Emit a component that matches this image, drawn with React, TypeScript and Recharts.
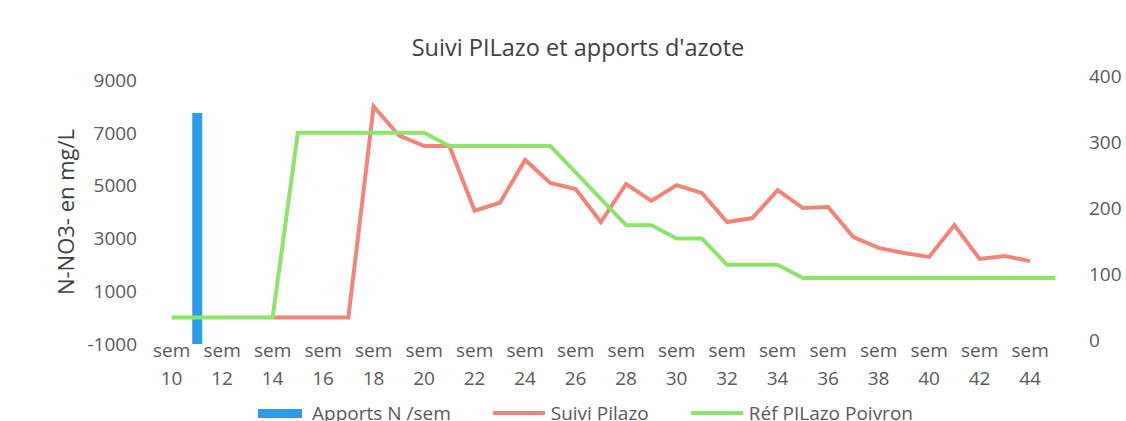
import { ComposedChart, Bar, Line, XAxis, YAxis } from "recharts";

const weeks = [
  "sem 10", "sem 11", "sem 12", "sem 13", "sem 14", "sem 15", "sem 16", "sem 17", "sem 18",
  "sem 19", "sem 20", "sem 21", "sem 22", "sem 23", "sem 24", "sem 25", "sem 26", "sem 27",
  "sem 28", "sem 29", "sem 30", "sem 31", "sem 32", "sem 33", "sem 34", "sem 35", "sem 36",
  "sem 37", "sem 38", "sem 39", "sem 40", "sem 41", "sem 42", "sem 43", "sem 44", "sem 45",
];

// Apports N /sem (axe de droite)
const apports = [
  null, 350, null, null, null, null, null, null, null,
  null, null, null, null, null, null, null, null, null,
  null, null, null, null, null, null, null, null, null,
  null, null, null, null, null, null, null, null, null,
];

// Suivi Pilazo, N-NO3- en mg/L (axe de gauche)
const suiviPilazo = [
  null, null, null, null, 0, 0, 0, 0, 8000,
  6900, 6500, 6500, 4050, 4350, 5970, 5100, 4870, 3620,
  5060, 4420, 5020, 4720, 3620, 3770, 4830, 4150, 4190,
  3050, 2640, 2450, 2300, 3510, 2220, 2330, 2140, null,
];

// Réf PILazo Poivron (axe de droite)
const refPilazo = [
  40, 40, 40, 40, 40, 320, 320, 320, 320,
  320, 320, 300, 300, 300, 300, 300, 260, 220,
  180, 180, 160, 160, 120, 120, 120, 100, 100,
  100, 100, 100, 100, 100, 100, 100, 100, 100,
];

const leftTicks = [-1000, 1000, 3000, 5000, 7000, 9000];
const rightTicks = [0, 100, 200, 300, 400];

const BLUE = "#2E9CE8";
const RED = "#F2847A";
const GREEN = "#8EE46A";
const TEXT = "#595959";
const FONT = "'Open Sans', sans-serif";

const data = weeks.map((w, i) => ({
  week: w,
  apports: apports[i],
  suivi: suiviPilazo[i],
  refPoivron: refPilazo[i],
}));

const renderSemTick = (props: any) => {
  const { x, y, payload } = props;
  const [a, b] = String(payload.value).split(" ");
  return (
    <text x={x} y={y} textAnchor="middle" fill={TEXT} fontSize={19} fontFamily={FONT}>
      <tspan x={x} dy={13}>{a}</tspan>
      <tspan x={x} dy={28}>{b}</tspan>
    </text>
  );
};

const legendItems = [
  { name: "Apports N /sem", color: BLUE, type: "rect" },
  { name: "Suivi Pilazo", color: RED, type: "line" },
  { name: "Réf PILazo Poivron", color: GREEN, type: "line" },
];

export default function App() {
  return (
    <div
      style={{
        position: "absolute",
        left: 0,
        top: 0,
        width: 1126,
        height: 421,
        background: "#fff",
        fontFamily: FONT,
      }}
    >
      <div
        style={{
          position: "absolute",
          left: 278,
          top: 33,
          width: 600,
          textAlign: "center",
          fontSize: 23.5,
          lineHeight: "28px",
          color: "#404040",
        }}
      >
        Suivi PILazo et apports d'azote
      </div>
      <div
        style={{
          position: "absolute",
          left: 65,
          top: 212,
          transform: "translate(-50%, -50%) rotate(-90deg)",
          whiteSpace: "nowrap",
          fontSize: 22,
          lineHeight: "26px",
          color: "#404040",
        }}
      >
        N-NO3- en mg/L
      </div>
      <ComposedChart
        width={1126}
        height={421}
        data={data}
        margin={{ top: 80, right: 0, bottom: 17, left: 0 }}
      >
        <XAxis
          dataKey="week"
          interval={1}
          height={60}
          axisLine={false}
          tickLine={false}
          tickSize={0}
          tickMargin={0}
          tick={renderSemTick}
        />
        <YAxis
          yAxisId="left"
          orientation="left"
          width={159}
          domain={[-1000, 9000]}
          ticks={leftTicks}
          axisLine={false}
          tickLine={false}
          tickSize={0}
          tickMargin={22}
          tick={{ fill: TEXT, fontSize: 19, fontFamily: FONT }}
        />
        <YAxis
          yAxisId="right"
          orientation="right"
          width={58}
          domain={[0, 400]}
          ticks={rightTicks}
          axisLine={false}
          tickLine={false}
          tickSize={0}
          tickMargin={21}
          tick={{ fill: TEXT, fontSize: 19, fontFamily: FONT, dy: -4 }}
        />
        <Bar
          yAxisId="right"
          dataKey="apports"
          name="Apports N /sem"
          fill={BLUE}
          barSize={10}
          isAnimationActive={false}
        />
        <Line
          yAxisId="left"
          type="linear"
          dataKey="suivi"
          name="Suivi Pilazo"
          stroke={RED}
          strokeWidth={4}
          dot={false}
          isAnimationActive={false}
        />
        <Line
          yAxisId="right"
          type="linear"
          dataKey="refPoivron"
          name="Réf PILazo Poivron"
          stroke={GREEN}
          strokeWidth={4}
          dot={false}
          isAnimationActive={false}
        />
      </ComposedChart>
      <div
        style={{
          position: "absolute",
          left: 258,
          top: 403,
          height: 20,
          display: "flex",
          alignItems: "center",
          gap: 42,
          fontSize: 19,
          lineHeight: "20px",
          color: TEXT,
          whiteSpace: "nowrap",
        }}
      >
        {legendItems.map((it) => (
          <div key={it.name} style={{ display: "flex", alignItems: "center" }}>
            <span
              style={{
                display: "inline-block",
                width: it.type === "rect" ? 44 : 52,
                height: it.type === "rect" ? 9 : 4,
                background: it.color,
                marginRight: it.type === "rect" ? 10 : 6,
              }}
            />
            <span>{it.name}</span>
          </div>
        ))}
      </div>
    </div>
  );
}
